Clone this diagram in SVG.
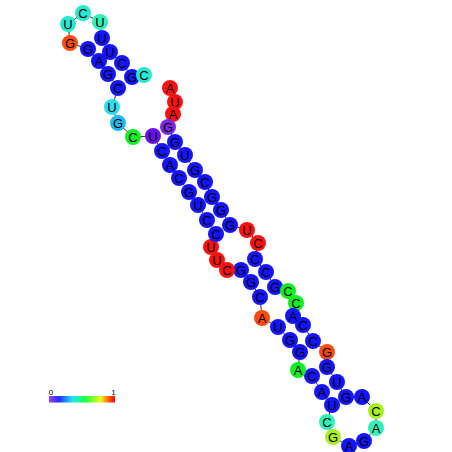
<svg xmlns="http://www.w3.org/2000/svg" width="452" height="452" viewBox="0 0 452 452">
<defs>
<linearGradient id="leg" x1="0" y1="0" x2="1" y2="0">
<stop offset="0" stop-color="#a040ff"/>
<stop offset="0.15" stop-color="#2030ff"/>
<stop offset="0.35" stop-color="#20e0ff"/>
<stop offset="0.55" stop-color="#20ff40"/>
<stop offset="0.78" stop-color="#e8ff20"/>
<stop offset="0.9" stop-color="#ff6010"/>
<stop offset="1" stop-color="#ff0010"/>
</linearGradient>
<style>
circle{r:8px}
.b{fill:#1414ff}.r{fill:#ff1010}.o{fill:#ff4a10}.p{fill:#6a10f0}.p2{fill:#7a28e8}
.c{fill:#28e8d0}.aq{fill:#30f0b8}.sk{fill:#20b8f0}.cy{fill:#30dcf0}.g{fill:#10f020}.yg{fill:#a8f020}
text{font-family:"Liberation Sans",Arial,sans-serif;font-size:13px;text-anchor:middle;fill:#000}
.bb{fill:none;stroke:#333;stroke-width:1}
.lg{font-size:8px}
</style>
</defs>
<g id="connectors">
<polyline class="bb" points="170,88 175,102 173,114 168,127 175,142 185,155 195,170 205,182 212,197 221,210 230,225 247,230 258,243 255,259 266,272 275,287 288,291 296,303 293,316 303,325 313,341 327,352 327,367 337,382 346,397 362,397 376,411 376,428 364,441 349,446 333,437 327,422 332,405 322,392 312,376 298,370 300,352 290,340 278,327 262,318 260,297 251,282 241,270 227,270 217,260 211,247 216,234 207,220 198,205 189,192 179,178 170,165 162,151 153,136 133,137 118,123 112,107 118,88 108,74 99,61 88,49 70,43 68,24 83,13 100,22 102,38 110,52 122,63 132,77 144,75"/>
</g>
<g id="n1"><circle class="r" cx="170" cy="88"/><text x="170" y="92.6">A</text></g>
<g id="n2"><circle class="r" cx="175" cy="102"/><text x="175" y="106.6">U</text></g>
<g id="n3"><circle class="r" cx="173" cy="114"/><text x="173" y="118.6">A</text></g>
<g id="n4"><circle class="p2" cx="168" cy="127"/><text x="168" y="131.6">G</text></g>
<g id="n5"><circle class="b" cx="175" cy="142"/><text x="175" y="146.6">G</text></g>
<g id="n6"><circle class="b" cx="185" cy="155"/><text x="185" y="159.6">U</text></g>
<g id="n7"><circle class="b" cx="195" cy="170"/><text x="195" y="174.6">G</text></g>
<g id="n8"><circle class="b" cx="205" cy="182"/><text x="205" y="186.6">C</text></g>
<g id="n9"><circle class="b" cx="212" cy="197"/><text x="212" y="201.6">G</text></g>
<g id="n10"><circle class="b" cx="221" cy="210"/><text x="221" y="214.6">G</text></g>
<g id="n11"><circle class="b" cx="230" cy="225"/><text x="230" y="229.6">G</text></g>
<g id="n12"><circle class="r" cx="247" cy="230"/><text x="247" y="234.6">U</text></g>
<g id="n13"><circle class="r" cx="258" cy="243"/><text x="258" y="247.6">C</text></g>
<g id="n14"><circle class="b" cx="255" cy="259"/><text x="255" y="263.6">C</text></g>
<g id="n15"><circle class="b" cx="266" cy="272"/><text x="266" y="276.6">C</text></g>
<g id="n16"><circle class="b" cx="275" cy="287"/><text x="275" y="291.6">G</text></g>
<g id="n17"><circle class="g" cx="288" cy="291"/><text x="288" y="295.6">C</text></g>
<g id="n18"><circle class="g" cx="296" cy="303"/><text x="296" y="307.6">C</text></g>
<g id="n19"><circle class="b" cx="293" cy="316"/><text x="293" y="320.6">A</text></g>
<g id="n20"><circle class="b" cx="303" cy="325"/><text x="303" y="329.6">C</text></g>
<g id="n21"><circle class="b" cx="313" cy="341"/><text x="313" y="345.6">C</text></g>
<g id="n22"><circle class="o" cx="327" cy="352"/><text x="327" y="356.6">G</text></g>
<g id="n23"><circle class="b" cx="327" cy="367"/><text x="327" y="371.6">G</text></g>
<g id="n24"><circle class="b" cx="337" cy="382"/><text x="337" y="386.6">U</text></g>
<g id="n25"><circle class="b" cx="346" cy="397"/><text x="346" y="401.6">G</text></g>
<g id="n26"><circle class="b" cx="362" cy="397"/><text x="362" y="401.6">A</text></g>
<g id="n27"><circle class="yg" cx="376" cy="411"/><text x="376" y="415.6">C</text></g>
<g id="n28"><circle class="aq" cx="376" cy="428"/><text x="376" y="432.6">A</text></g>
<g id="n29"><circle class="b" cx="364" cy="441"/><text x="364" y="445.6">G</text></g>
<g id="n30"><circle class="b" cx="349" cy="446"/><text x="349" y="450.6">A</text></g>
<g id="n31"><circle class="yg" cx="333" cy="437"/><text x="333" y="441.6">G</text></g>
<g id="n32"><circle class="aq" cx="327" cy="422"/><text x="327" y="426.6">C</text></g>
<g id="n33"><circle class="b" cx="332" cy="405"/><text x="332" y="409.6">U</text></g>
<g id="n34"><circle class="b" cx="322" cy="392"/><text x="322" y="396.6">A</text></g>
<g id="n35"><circle class="b" cx="312" cy="376"/><text x="312" y="380.6">C</text></g>
<g id="n36"><circle class="g" cx="298" cy="370"/><text x="298" y="374.6">A</text></g>
<g id="n37"><circle class="b" cx="300" cy="352"/><text x="300" y="356.6">G</text></g>
<g id="n38"><circle class="b" cx="290" cy="340"/><text x="290" y="344.6">G</text></g>
<g id="n39"><circle class="b" cx="278" cy="327"/><text x="278" y="331.6">U</text></g>
<g id="n40"><circle class="o" cx="262" cy="318"/><text x="262" y="322.6">A</text></g>
<g id="n41"><circle class="b" cx="260" cy="297"/><text x="260" y="301.6">C</text></g>
<g id="n42"><circle class="b" cx="251" cy="282"/><text x="251" y="286.6">G</text></g>
<g id="n43"><circle class="b" cx="241" cy="270"/><text x="241" y="274.6">G</text></g>
<g id="n44"><circle class="r" cx="227" cy="270"/><text x="227" y="274.6">C</text></g>
<g id="n45"><circle class="r" cx="217" cy="260"/><text x="217" y="264.6">U</text></g>
<g id="n46"><circle class="r" cx="211" cy="247"/><text x="211" y="251.6">U</text></g>
<g id="n47"><circle class="b" cx="216" cy="234"/><text x="216" y="238.6">C</text></g>
<g id="n48"><circle class="b" cx="207" cy="220"/><text x="207" y="224.6">C</text></g>
<g id="n49"><circle class="b" cx="198" cy="205"/><text x="198" y="209.6">U</text></g>
<g id="n50"><circle class="b" cx="189" cy="192"/><text x="189" y="196.6">G</text></g>
<g id="n51"><circle class="b" cx="179" cy="178"/><text x="179" y="182.6">C</text></g>
<g id="n52"><circle class="b" cx="170" cy="165"/><text x="170" y="169.6">A</text></g>
<g id="n53"><circle class="b" cx="162" cy="151"/><text x="162" y="155.6">C</text></g>
<g id="n54"><circle class="p" cx="153" cy="136"/><text x="153" y="140.6">U</text></g>
<g id="n55"><circle class="g" cx="133" cy="137"/><text x="133" y="141.6">C</text></g>
<g id="n56"><circle class="sk" cx="118" cy="123"/><text x="118" y="127.6">G</text></g>
<g id="n57"><circle class="cy" cx="112" cy="107"/><text x="112" y="111.6">U</text></g>
<g id="n58"><circle class="b" cx="118" cy="88"/><text x="118" y="92.6">C</text></g>
<g id="n59"><circle class="b" cx="108" cy="74"/><text x="108" y="78.6">G</text></g>
<g id="n60"><circle class="b" cx="99" cy="61"/><text x="99" y="65.6">A</text></g>
<g id="n61"><circle class="b" cx="88" cy="49"/><text x="88" y="53.6">G</text></g>
<g id="n62"><circle class="o" cx="70" cy="43"/><text x="70" y="47.6">G</text></g>
<g id="n63"><circle class="c" cx="68" cy="24"/><text x="68" y="28.6">U</text></g>
<g id="n64"><circle class="c" cx="83" cy="13"/><text x="83" y="17.6">C</text></g>
<g id="n65"><circle class="aq" cx="100" cy="22"/><text x="100" y="26.6">U</text></g>
<g id="n66"><circle class="b" cx="102" cy="38"/><text x="102" y="42.6">U</text></g>
<g id="n67"><circle class="b" cx="110" cy="52"/><text x="110" y="56.6">U</text></g>
<g id="n68"><circle class="b" cx="122" cy="63"/><text x="122" y="67.6">C</text></g>
<g id="n69"><circle class="b" cx="132" cy="77"/><text x="132" y="81.6">G</text></g>
<g id="n70"><circle class="c" cx="144" cy="75"/><text x="144" y="79.6">C</text></g>
<g id="legend">
<rect x="49" y="396" width="66" height="6.5" fill="url(#leg)"/>
<text class="lg" x="51" y="395">0</text>
<text class="lg" x="113.5" y="395">1</text>
</g>
</svg>
